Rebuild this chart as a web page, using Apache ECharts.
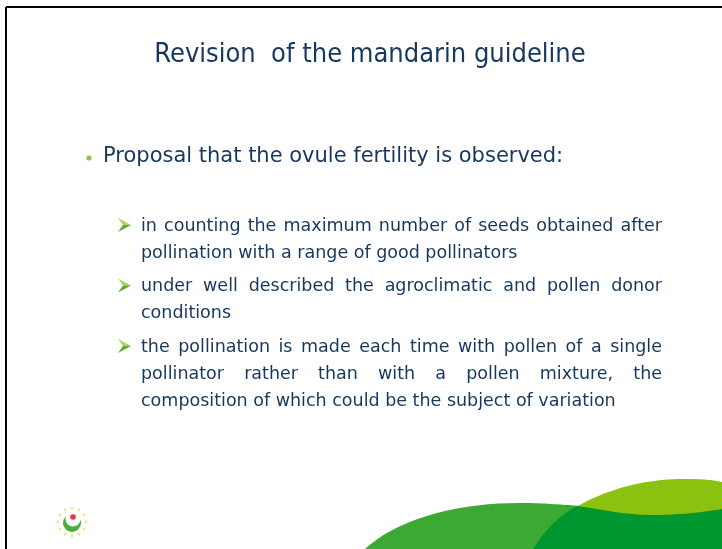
<!DOCTYPE html>
<html>
<head>
<meta charset="utf-8">
<script src="https://cdn.jsdelivr.net/npm/echarts@6/dist/echarts.min.js"></script>
<style>
  html, body { margin: 0; padding: 0; background: #fff; }
  #chart { width: 722px; height: 549px; }
</style>
</head>
<body>
<div id="chart"></div>
<script>
// ------------------------------------------------------------------
// slide text
// ------------------------------------------------------------------
const titleText = 'Revision  of the mandarin guideline'
const mainBullet = 'Proposal that the ovule fertility is observed:'
// each paragraph, split into the lines as they wrap on the slide
const subBullets = [
  ['in counting the maximum number of seeds obtained after',
   'pollination with a range of good pollinators'],
  ['under well described the agroclimatic and pollen donor',
   'conditions'],
  ['the pollination is made each time with pollen of a single',
   'pollinator rather than with a pollen mixture, the',
   'composition of which could be the subject of variation'],
]

const FONT = 'Tahoma, "DejaVu Sans", sans-serif'
const TITLE_FONT = '"DejaVu Sans Condensed", "DejaVu Sans", sans-serif'
const NAVY = '#17375e'
const SUB_SIZE = 17.5

const measureCtx = document.createElement('canvas').getContext('2d')
function textWidth(str, size) {
  measureCtx.font = size + 'px ' + FONT
  return measureCtx.measureText(str).width
}

// justified line -> one text element per word
function justifiedLine(line, x0, x1, y, size, justify) {
  const words = line.split(' ')
  if (!justify || words.length < 2) {
    return [{ type: 'text', x: x0, y, style: { text: line, font: size + 'px ' + FONT, fill: NAVY, textVerticalAlign: 'middle' } }]
  }
  const widths = words.map((w) => textWidth(w, size))
  const total = widths.reduce((a, b) => a + b, 0)
  const gap = (x1 - x0 - total) / (words.length - 1)
  const els = []
  let x = x0
  words.forEach((w, i) => {
    els.push({ type: 'text', x, y, style: { text: w, font: size + 'px ' + FONT, fill: NAVY, textVerticalAlign: 'middle' } })
    x += widths[i] + gap
  })
  return els
}

// sample cubic bezier segments into polygon points
function bezierPoints(start, segs) {
  const pts = [start]
  let p0 = start
  segs.forEach(([c1, c2, p3]) => {
    for (let t = 0.05; t <= 1.0001; t += 0.05) {
      const u = 1 - t
      pts.push([
        u * u * u * p0[0] + 3 * u * u * t * c1[0] + 3 * u * t * t * c2[0] + t * t * t * p3[0],
        u * u * u * p0[1] + 3 * u * u * t * c1[1] + 3 * u * t * t * c2[1] + t * t * t * p3[1],
      ])
    }
    p0 = p3
  })
  return pts
}

// two-tone arrowhead bullet
function arrowBullet(x, y) {
  return [
    { type: 'polygon', shape: { points: [[x, y - 7], [x + 13, y], [x + 5, y]] }, style: { fill: '#a9d65c' } },
    { type: 'polygon', shape: { points: [[x + 5, y], [x + 13, y], [x, y + 7]] }, style: { fill: '#5da82f' } },
  ]
}

const elements = []

// frame
elements.push({ type: 'line', shape: { x1: 6, y1: 7, x2: 722, y2: 7 }, style: { stroke: '#000', lineWidth: 2 } })
elements.push({ type: 'line', shape: { x1: 6, y1: 7, x2: 6, y2: 549 }, style: { stroke: '#000', lineWidth: 2 } })

// title
elements.push({
  type: 'text', x: 370, y: 55,
  style: { text: titleText, font: '27px ' + TITLE_FONT, fill: NAVY, textAlign: 'center', textVerticalAlign: 'middle' },
})

// main bullet
elements.push({ type: 'circle', shape: { cx: 89, cy: 158, r: 2.6 }, style: { fill: '#8cc63f' } })
elements.push({
  type: 'text', x: 103, y: 157,
  style: { text: mainBullet, font: '21px ' + FONT, fill: NAVY, textVerticalAlign: 'middle' },
})

// sub bullets
let y = 226
subBullets.forEach((para) => {
  elements.push(...arrowBullet(118, y - 1))
  para.forEach((line, i) => {
    const last = i === para.length - 1
    elements.push(...justifiedLine(line, 141, 662, y, SUB_SIZE, !last))
    if (!last) y += 27
  })
  y += 33.5
})

// green hills (decoration)
elements.push({
  type: 'polygon',
  shape: { points: bezierPoints([365, 549], [
    [[392, 524], [445, 503], [520, 503]],
    [[545, 503], [565, 505], [582, 506]],
    [[582, 520], [582, 535], [582, 549]],
  ]) },
  style: { fill: '#3ca935' },
})
elements.push({
  type: 'polygon',
  shape: { points: bezierPoints([576, 507], [
    [[610, 488], [645, 479], [685, 479]],
    [[702, 479], [714, 480], [722, 482]],
  ]).concat([[722, 549], [576, 549]]) },
  style: { fill: '#8bc10f' },
})
elements.push({
  type: 'polygon',
  shape: { points: bezierPoints([533, 549], [
    [[545, 530], [560, 515], [577, 506]],
    [[600, 509], [625, 515], [652, 515]],
    [[680, 515], [705, 512], [722, 509]],
  ]).concat([[722, 549]]) },
  style: { fill: '#00962f' },
})

// logo
for (let k = 0; k < 12; k++) {
  const a = (k / 12) * Math.PI * 2
  elements.push({
    type: 'circle',
    shape: { cx: 72 + Math.cos(a) * 14, cy: 522 + Math.sin(a) * 14, r: 1.3 },
    style: { fill: '#f5dc86' },
  })
}
elements.push({ type: 'circle', shape: { cx: 72, cy: 523, r: 9 }, style: { fill: '#4caf32' } })
elements.push({ type: 'circle', shape: { cx: 73, cy: 519, r: 7.5 }, style: { fill: '#fff' } })
elements.push({ type: 'circle', shape: { cx: 73, cy: 517, r: 2.8 }, style: { fill: '#e5383b' } })

const chart = echarts.init(document.getElementById('chart'))
chart.setOption({
  backgroundColor: '#fff',
  graphic: { elements },
})
</script>
</body>
</html>
